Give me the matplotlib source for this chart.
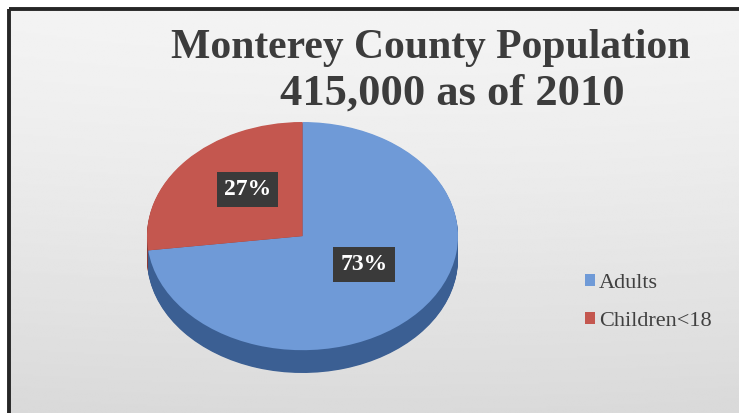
import numpy as np
import matplotlib
matplotlib.use("Agg")
import matplotlib.pyplot as plt
from matplotlib.patches import Rectangle

# data
categories = ["Adults", "Children<18"]
shares = [73, 27]
top_colors = ["#6f9ad7", "#c4574f"]
side_colors = ["#3b5f93", "#8a3a35"]
title_lines = ["Monterey County Population", "415,000 as of 2010"]

W, H = 739, 413
fig = plt.figure(figsize=(W / 100, H / 100), dpi=100)
fig.patch.set_facecolor("white")

# background panel with soft gradient
bg = fig.add_axes([0, 0, 1, 1])
bg.set_xlim(0, W)
bg.set_ylim(H, 0)
bg.axis("off")
yy = np.linspace(0, 1, 200)[:, None]
xx = np.linspace(0, 1, 300)[None, :]
shade = 0.955 - 0.10 * yy ** 1.3 - 0.015 * (xx - 0.5) ** 2
bg.imshow(shade, cmap="gray", vmin=0, vmax=1, extent=[10, W, H, 10],
          aspect="auto", interpolation="bilinear", zorder=0)
bg.add_patch(Rectangle((9, 9), W, H, fill=False, edgecolor="#262626",
                       linewidth=2.8, zorder=1))

# title
fig.text(431 / W, 1 - 58 / H, title_lines[0], ha="center", va="baseline",
         fontsize=30, fontweight="bold", family="Liberation Serif", color="#3c3c3c")
fig.text(452 / W, 1 - 105 / H, title_lines[1], ha="center", va="baseline",
         fontsize=32, fontweight="bold", family="Liberation Serif", color="#3c3c3c")

# pie, squashed into an ellipse with a stacked side for depth
depth = 0.2
ax = fig.add_axes([147 / W, (H - 373) / H, 311 / W, 251 / H])
nlayers = 30
for k in range(nlayers, 0, -1):
    ax.pie(shares, colors=side_colors, startangle=90, counterclock=False,
           center=(0, -depth * k / nlayers), radius=1.0,
           wedgeprops=dict(linewidth=0))
wedges, _, autotexts = ax.pie(
    shares, colors=top_colors, startangle=90, counterclock=False,
    autopct="%d%%", pctdistance=0.5, radius=1.0,
    wedgeprops=dict(linewidth=0),
    textprops=dict(color="white", fontsize=17, fontweight="bold",
                   family="Liberation Serif"))
for t in autotexts:
    x, y = t.get_position()
    t.set_position((x + 0.02, y + 0.08))
    t.set_bbox(dict(boxstyle="square,pad=0.3", facecolor="#3a3a3a",
                    edgecolor="none"))
ax.set_aspect("auto")
ax.set_xlim(-1, 1)
ax.set_ylim(-1 - depth, 1)
ax.axis("off")

# legend
leg = fig.legend(wedges, categories, loc="upper left",
                 bbox_to_anchor=(567 / W, 1 - 256 / H), frameon=False,
                 prop=dict(family="Liberation Serif", size=16),
                 handlelength=0.45, handleheight=0.45, handletextpad=0.2,
                 labelspacing=0.85, borderpad=0.3)
for t in leg.get_texts():
    t.set_color("#404040")

fig.savefig("out.png", dpi=100)
